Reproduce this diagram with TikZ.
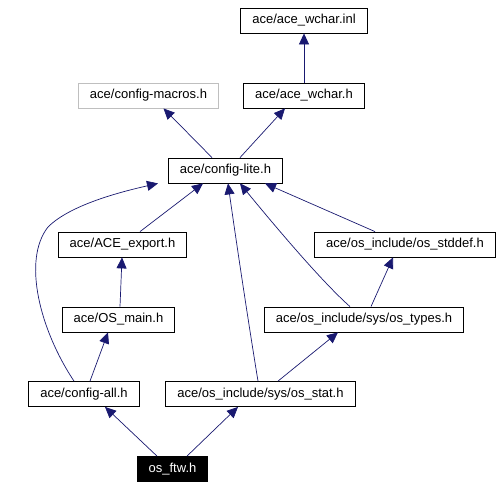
\documentclass[tikz,border=0pt]{standalone}
\usepackage{fontspec}
\setmainfont{Liberation Sans}
\usetikzlibrary{arrows.meta}
\definecolor{edgeblue}{HTML}{191970}
\definecolor{boxgray}{HTML}{BFBFBF}
\tikzset{
    file/.style={draw=black, line width=0.8pt, inner xsep=11.5pt, inner ysep=2pt, minimum height=25pt, font=\fontsize{13}{15}\selectfont},
    dep/.style={draw=edgeblue, line width=0.7pt, -{Triangle[length=11pt,width=10pt]}}
}
\begin{document}
\begin{tikzpicture}[x=1pt, y=-1pt]
        \useasboundingbox (0,0) rectangle (504,488);

        \node[file] (inl) at (304, 20.5) {ace/ace\_wchar.inl};
        \node[file, draw=boxgray] (macros) at (148.5, 95.5) {ace/config-macros.h};
        \node[file] (wchar) at (304, 95.5) {ace/ace\_wchar.h};
        \node[file] (lite) at (225.5, 170.5) {ace/config-lite.h};
        \node[file] (export) at (122.5, 244.5) {ace/ACE\_export.h};
        \node[file] (stddef) at (405, 244.5) {ace/os\_include/os\_stddef.h};
        \node[file] (osmain) at (118.5, 319.5) {ace/OS\_main.h};
        \node[file] (types) at (364, 319.5) {ace/os\_include/sys/os\_types.h};
        \node[file] (all) at (84, 394) {ace/config-all.h};
        \node[file] (stat) at (260.5, 394) {ace/os\_include/sys/os\_stat.h};
        \node[file, fill=black, text=white] (ftw) at (172.5, 469) {os\_ftw.h};

        \draw[dep] (wchar.north) -- (inl.south);
        \draw[dep] ([xshift=-13.5pt]lite.north) -- ([xshift=15pt]macros.south);
        \draw[dep] ([xshift=14.5pt]lite.north) -- ([xshift=-19pt]wchar.south);

        \draw[dep] ([xshift=17.5pt]export.north) -- ([xshift=-22.5pt]lite.south);
        \draw[dep] ([xshift=-30pt]stddef.north) -- ([xshift=39.5pt]lite.south);
        \draw[dep] ([xshift=-14pt]types.north) .. controls (320,280) and (270,220) .. ([xshift=14.5pt]lite.south);
        \draw[dep] ([xshift=-2.5pt]stat.north) .. controls (248,320) and (236,240) .. ([xshift=2.5pt]lite.south);
        \draw[dep] ([xshift=-10pt]all.north) .. controls (40,330) and (22,260) .. (48,227)
            .. controls (70,205) and (120,192) .. ([xshift=-67.5pt]lite.south);

        \draw[dep] ([xshift=1.5pt]osmain.north) -- ([xshift=-0.5pt]export.south);
        \draw[dep] ([xshift=7pt]types.north) -- ([xshift=-12pt]stddef.south);
        \draw[dep] ([xshift=6pt]all.north) -- ([xshift=-10.5pt]osmain.south);
        \draw[dep] ([xshift=17.5pt]stat.north) -- ([xshift=-26pt]types.south);

        \draw[dep] ([xshift=-15.5pt]ftw.north) -- ([xshift=21pt]all.south);
        \draw[dep] ([xshift=14.5pt]ftw.north) -- ([xshift=-22.5pt]stat.south);
    \end{tikzpicture}
\end{document}
